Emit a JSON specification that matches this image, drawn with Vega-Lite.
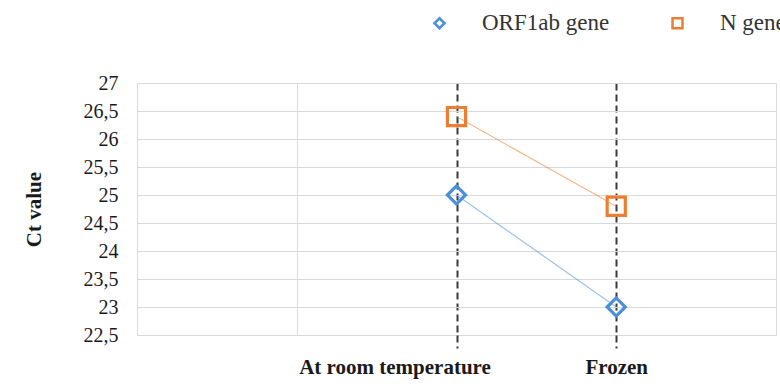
{
  "$schema": "https://vega.github.io/schema/vega-lite/v6.json",
  "autosize": "none",
  "width": 639,
  "height": 252,
  "padding": {"left": 137, "top": 83, "right": 4, "bottom": 55},
  "background": "white",
  "config": {"view": {"stroke": null}},
  "data": {"values": [
    {"condition": "At room temperature", "gene": "ORF1ab gene", "ct": 25.0},
    {"condition": "Frozen", "gene": "ORF1ab gene", "ct": 23.0},
    {"condition": "At room temperature", "gene": "N gene", "ct": 26.4},
    {"condition": "Frozen", "gene": "N gene", "ct": 24.8}
  ]},
  "encoding": {
    "x": {
      "field": "condition", "type": "ordinal",
      "scale": {"type": "point", "domain": ["p0", "p1", "At room temperature", "Frozen", "p4"], "padding": 0},
      "axis": {
        "title": null, "domain": false, "labelAngle": 0, "labelLimit": 0,
        "labelExpr": "length(datum.value) <= 2 ? '' : datum.value",
        "labelFont": "Liberation Serif",
        "labelFontSize": 21, "labelFontWeight": "bold", "labelColor": "#1a1a1a",
        "labelBaseline": "top", "labelPadding": 8,
        "labelOffset": {"condition": {"test": "datum.value == 'At room temperature'", "value": -62}, "value": 0},
        "grid": true,
        "gridColor": {"condition": {"test": "length(datum.value) > 2", "value": "#3a3a3a"}, "value": "#d9d9d9"},
        "gridDash": {"condition": {"test": "length(datum.value) > 2", "value": [7, 4]}, "value": []},
        "gridWidth": {"condition": {"test": "length(datum.value) > 2", "value": 2}, "value": 1},
        "ticks": true, "tickSize": 13,
        "tickColor": "#3a3a3a",
        "tickOpacity": {"condition": {"test": "length(datum.value) > 2", "value": 1}, "value": 0},
        "tickDash": [7, 4], "tickWidth": 2
      }
    },
    "y": {
      "field": "ct", "type": "quantitative",
      "scale": {"domain": [22.5, 27], "nice": false, "zero": false},
      "axis": {
        "title": "Ct value", "titleFont": "Liberation Serif", "titleFontSize": 21, "titleFontWeight": "bold", "titleColor": "#1a1a1a",
        "titleX": -93,
        "values": [22.5, 23, 23.5, 24, 24.5, 25, 25.5, 26, 26.5, 27],
        "labelExpr": "replace(format(datum.value, '~g'), '.', ',')",
        "labelFont": "Liberation Serif", "labelFontWeight": "normal",
        "labelFontSize": 20, "labelColor": "#1a1a1a",
        "ticks": false, "domain": false, "labelPadding": 19,
        "grid": true, "gridColor": "#d9d9d9", "gridWidth": 1
      }
    },
    "color": {"field": "gene", "type": "nominal", "title": null,
      "scale": {"domain": ["ORF1ab gene", "N gene"], "range": ["#4a90d9", "#ed7d31"]},
      "legend": {
        "orient": "none", "direction": "horizontal", "legendX": 291, "legendY": -71.5,
        "padding": 0, "labelFontSize": 23, "labelColor": "#333333", "labelFont": "Liberation Serif", "labelFontWeight": "normal",
        "labelOffset": 31, "columnPadding": 56, "symbolSize": 100, "symbolStrokeWidth": 2.5,
        "symbolFillColor": "white", "title": null
      }
    }
  },
  "layer": [
    {
      "mark": {"type": "line", "strokeWidth": 1.2, "strokeOpacity": 0.55},
      "encoding": {
        "detail": {"field": "gene"}
      }
    },
    {
      "mark": {"type": "point", "filled": false, "opacity": 1, "size": 330, "strokeWidth": 3.2},
      "encoding": {
        "shape": {"field": "gene", "type": "nominal", "title": null,
          "scale": {"domain": ["ORF1ab gene", "N gene"], "range": ["diamond", "square"]},
          "legend": {
            "orient": "none", "direction": "horizontal", "legendX": 291, "legendY": -71.5,
            "padding": 0, "labelFontSize": 23, "labelColor": "#333333", "labelFont": "Liberation Serif", "labelFontWeight": "normal",
            "labelOffset": 31, "columnPadding": 56, "symbolSize": 100, "symbolStrokeWidth": 2.5,
            "symbolFillColor": "white", "title": null
          }
        }
      }
    }
  ]
}
